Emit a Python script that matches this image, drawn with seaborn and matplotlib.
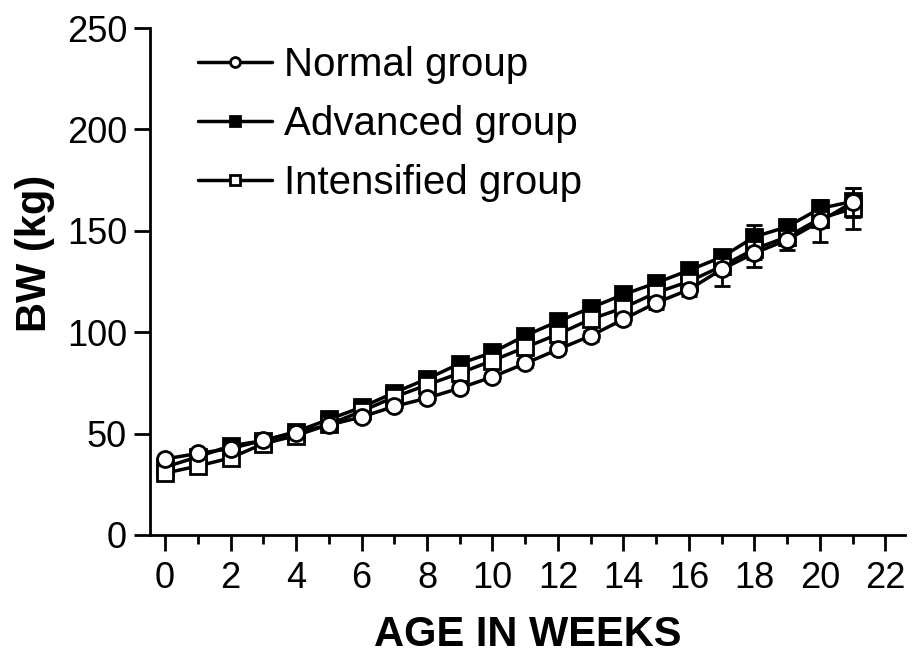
import matplotlib
matplotlib.use("Agg")
import matplotlib.pyplot as plt
from matplotlib.ticker import MultipleLocator
import numpy as np
import pandas as pd
import seaborn as sns

weeks = list(range(22))
normal = [37.5, 40.2, 42.6, 46.7, 50.5, 54.2, 58.2, 63.4, 67.5, 72.4, 78.0, 84.6,
          91.5, 98.2, 106.4, 114.5, 121.0, 131.0, 139.0, 145.5, 154.6, 164.0]
advanced = [33.5, 38.5, 44.0, 46.5, 51.0, 57.0, 63.0, 70.2, 77.0, 84.5, 90.0, 98.3,
            105.3, 112.0, 118.6, 124.3, 130.5, 137.0, 147.0, 152.0, 161.0, 164.5]
intensified = [30.5, 34.0, 38.0, 45.0, 49.0, 54.5, 61.0, 68.0, 74.0, 79.8, 86.0, 92.5,
               99.0, 106.4, 112.0, 119.5, 125.0, 132.5, 141.0, 147.0, 156.0, 161.0]
normal_err = [1.5, 1.5, 1.5, 1.5, 1.5, 2, 2, 2, 2, 2, 2, 2, 2, 2.5, 2.5, 3, 3, 8, 7, 5, 10, 7]
advanced_err = [1.5, 1.5, 1.5, 1.5, 1.5, 2, 2, 2, 2, 2, 2, 2, 2, 2.5, 2.5, 3, 3, 3, 6, 3, 4, 3]
intensified_err = [1.5, 1.5, 1.5, 1.5, 1.5, 2, 2, 2, 2, 2, 2, 2, 2, 2.5, 2.5, 3, 3, 4, 5, 4, 4, 10]

labels = ["Normal group", "Advanced group", "Intensified group"]
x_ticks = list(range(0, 23, 2))
y_ticks = [0, 50, 100, 150, 200, 250]

sns.set_style("ticks")
plt.rcParams["font.family"] = ["Liberation Sans", "DejaVu Sans"]
plt.rcParams["text.color"] = "black"
plt.rcParams["axes.labelcolor"] = "black"

fig = plt.figure(figsize=(9.17, 6.61), dpi=100)
ax = fig.add_axes([150 / 917, 1 - 535 / 661, (905 - 150) / 917, (535 - 28) / 661])

series = [
    (labels[1], advanced, advanced_err, "s", "black", 3),
    (labels[2], intensified, intensified_err, "s", "white", 4),
    (labels[0], normal, normal_err, "o", "white", 5),
]
handles = {}
for name, vals, errs, mk, fc, z in series:
    df = pd.DataFrame({"week": weeks, "bw": vals})
    ax.errorbar(weeks, vals, yerr=errs, fmt="none", ecolor="black",
                elinewidth=2, capsize=6, capthick=2, zorder=z - 0.5)
    sns.lineplot(data=df, x="week", y="bw", ax=ax, color="black", lw=2.5,
                 marker=mk, markersize=11.5, markerfacecolor=fc,
                 markeredgecolor="black", markeredgewidth=2, zorder=z)
    handles[name] = ax.lines[-1]

ax.set_xlim(-0.46, 22.6)
ax.set_ylim(0, 250)
ax.set_xticks(x_ticks)
ax.xaxis.set_minor_locator(MultipleLocator(1))
ax.set_yticks(y_ticks)
for s in ["top", "right"]:
    ax.spines[s].set_visible(False)
for s in ["left", "bottom"]:
    ax.spines[s].set_linewidth(2)
    ax.spines[s].set_color("black")
ax.tick_params(axis="both", which="major", labelsize=26, width=2, length=11.5,
               color="black", labelcolor="black", pad=5)
ax.tick_params(axis="x", which="major", pad=7)
ax.tick_params(axis="x", which="minor", width=2, length=6.5, color="black")
ax.set_xlabel("AGE IN WEEKS", fontsize=30, fontweight="bold", labelpad=14)
ax.set_ylabel("BW (kg)", fontsize=30, fontweight="bold")
ax.yaxis.set_label_coords(-0.126, (535 - 253) / 507)

leg = ax.legend([handles[l] for l in labels], labels, loc="upper left",
                bbox_to_anchor=(0.042, 0.996), frameon=False, fontsize=29,
                markerscale=0.62, handlelength=1.85, handletextpad=0.3,
                labelspacing=0.52, borderaxespad=0)

fig.savefig("out.png", dpi=100, facecolor="white")
